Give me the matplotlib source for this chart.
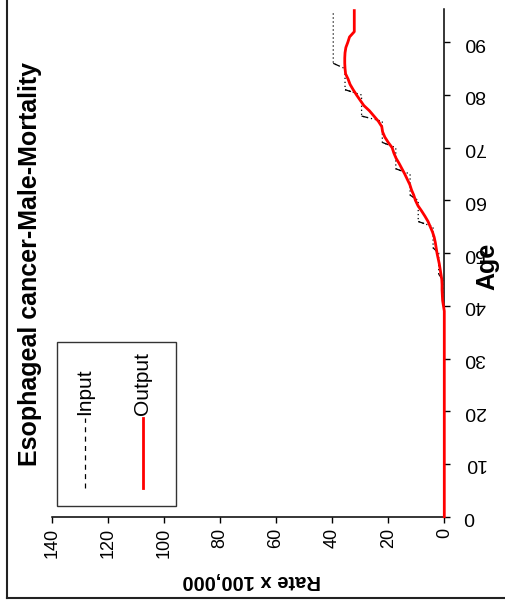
import numpy as np
import matplotlib
matplotlib.use("Agg")
import matplotlib.pyplot as plt
from matplotlib.lines import Line2D
from matplotlib.patches import Rectangle
from matplotlib.collections import LineCollection

plt.rcParams['font.family'] = ['Liberation Sans', 'DejaVu Sans']

# ---------------- data ----------------
title = "Esophageal cancer-Male-Mortality"
age_label = "Age"
rate_label = "Rate x 100,000"
series_names = ["Input", "Output"]

ages = np.arange(0, 97)

# Output (smoothed) rate by single year of age; 0 below age 40
output_rate_0_39 = [0.0] * 40
output_rate_40_96 = [0.3, 0.6, 0.7, 0.8, 0.8,
                     0.9, 1.2, 1.5, 1.8, 2.2,
                     2.6, 2.9, 3.2, 3.6, 4.2,
                     5.0, 5.8, 6.9, 8.1, 9.4,
                     10.3, 10.9, 11.7, 12.3, 13.2,
                     14.1, 15.1, 16.1, 17.2, 18.0,
                     18.6, 20.0, 21.2, 22.0, 22.3,
                     23.5, 25.1, 26.7, 28.7, 30.0,
                     31.3, 32.5, 33.6, 34.3, 35.2,
                     35.4, 35.5, 35.5, 35.4, 35.1,
                     34.4, 33.8, 32.1, 32.1, 32.1,
                     32.1, 32.1]
output_rate = np.array(output_rate_0_39 + output_rate_40_96)

# Input: 5-year age-group rates (group first age -> rate)
input_group_start = [0, 41, 46, 51, 56, 61, 66, 71, 76, 81, 86]
input_group_rate = [0.0, 0.6, 2.0, 4.0, 9.3, 12.2, 17.3, 22.1, 29.5, 35.4, 39.6]
input_rate = np.array(input_group_rate)[np.searchsorted(input_group_start, ages, side='right') - 1]

rate_ticks = list(range(0, 141, 20))
age_ticks = list(range(0, 91, 10))

# ---------------- figure ----------------
W, H = 506, 603
fig = plt.figure(figsize=(W / 100, H / 100), dpi=100)
fig.patch.set_facecolor('white')

ax_left, ax_right, ax_bottom, ax_top = 51.7, 444.3, 516.7, 8.5
ax = fig.add_axes([ax_left / W, 1 - ax_bottom / H, (ax_right - ax_left) / W, (ax_bottom - ax_top) / H])

# rotated chart: rate on horizontal axis (reversed), age on vertical axis
ax.plot(output_rate, ages, color='#ff0000', lw=2.0, zorder=4, solid_joinstyle='round', clip_on=False)
ax.plot(input_rate, ages, color='black', lw=0.9, linestyle=(0, (1.0, 2.2)), zorder=2)
# the short dashes at the group transitions
trans = [i for i in range(len(ages) - 1) if input_rate[i] != input_rate[i + 1]]
segs = [[(input_rate[i + 1], ages[i + 1]), (input_rate[i], ages[i])] for i in trans]
lc = LineCollection(segs, colors='black', linewidths=0.9, linestyles=[(0, (5, 100))], zorder=2)
ax.add_collection(lc)

ax.set_xlim(140, 0)
ax.set_ylim(0, 96.4)
ax.set_xticks(rate_ticks)
ax.set_xticklabels([str(t) for t in rate_ticks])
ax.set_yticks(age_ticks)
ax.set_yticklabels([str(t) for t in age_ticks])
ax.yaxis.tick_right()
for s in ['left', 'top']:
    ax.spines[s].set_visible(False)
for s in ['right', 'bottom']:
    ax.spines[s].set_linewidth(1.1)
    ax.spines[s].set_color('black')
ax.tick_params(axis='x', direction='out', length=4, width=1, labelsize=13, labelrotation=90, pad=4)
ax.tick_params(axis='y', direction='out', length=4, width=1, labelsize=14, labelrotation=180, pad=10,
               right=True, left=False)
for lbl in ax.get_yticklabels():
    lbl.set_va('center')

# texts
fig.text(30 / W, 1 - 264 / H, title, rotation=90, ha='center', va='center',
         fontsize=18, fontweight='bold')
fig.text(487 / W, 1 - 266 / H, age_label, rotation=90, ha='center', va='center',
         fontsize=18, fontweight='bold')
fig.text(252 / W, 1 - 580 / H, rate_label, rotation=180, ha='center', va='center',
         fontsize=14.5, fontweight='bold')

# manual rotated legend
leg_x0, leg_x1, leg_y0, leg_y1 = 57, 176, 342, 506
fig.add_artist(Rectangle((leg_x0 / W, 1 - leg_y1 / H), (leg_x1 - leg_x0) / W, (leg_y1 - leg_y0) / H,
                         transform=fig.transFigure, facecolor='white', edgecolor='#333333', lw=1.0,
                         zorder=5))
handle_styles = [dict(color='black', lw=0.9, linestyle=(0, (4, 3.5))),
                 dict(color='#ff0000', lw=2.0, linestyle='-')]
handle_x = [85, 143]
for name, hx, st in zip(series_names, handle_x, handle_styles):
    fig.add_artist(Line2D([hx / W, hx / W], [1 - 488 / H, 1 - 418 / H], transform=fig.transFigure,
                          zorder=6, **st))
    fig.text((hx - 0.5) / W, 1 - 415 / H, name, rotation=90, ha='center', va='bottom',
             fontsize=15, zorder=6)

# outer frame (left and bottom edges visible)
fig.add_artist(Line2D([7 / W, 7 / W], [1 - 598 / H, 1.0], transform=fig.transFigure,
                      color='#222222', lw=1.5))
fig.add_artist(Line2D([7 / W, 1.0], [1 - 598 / H, 1 - 598 / H], transform=fig.transFigure,
                      color='#222222', lw=1.5))

fig.savefig('out.png', dpi=100)
